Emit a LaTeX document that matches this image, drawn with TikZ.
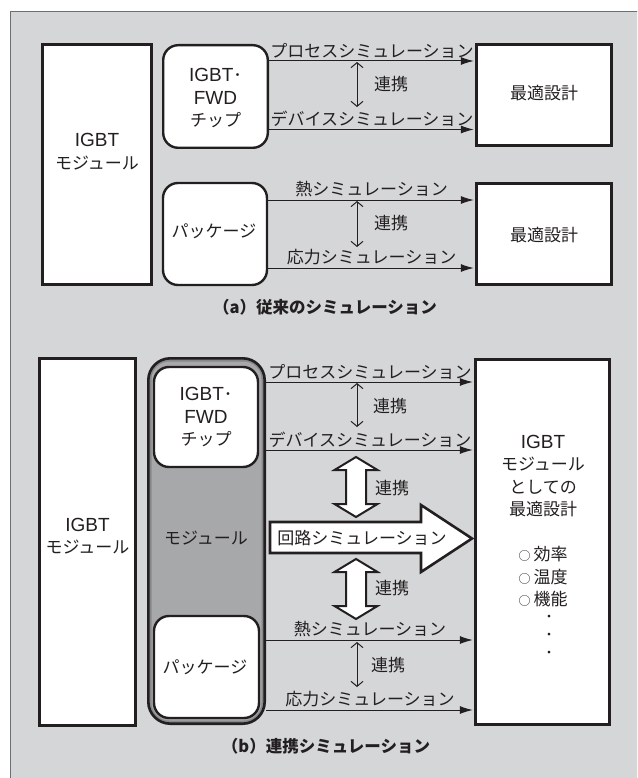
\documentclass[tikz,border=0pt]{standalone}
\usepackage{fontspec}
\setmainfont{Noto Sans CJK JP}
\newfontfamily\latf{Liberation Sans}
\usetikzlibrary{arrows.meta}
\definecolor{panel}{HTML}{D5D6D8}
\definecolor{modfill}{HTML}{A7A8AA}
\definecolor{modring}{HTML}{86878A}
\definecolor{ink}{HTML}{231F20}
\definecolor{frame}{HTML}{6D6E70}
\newcommand\LatT[1]{{\latf\fontsize{19}{22.5}\selectfont #1}}
\newcommand\SmCirc{{\fontsize{12}{12}\selectfont ○}\hspace{3pt}}
\begin{document}
\begin{tikzpicture}[x=1pt,y=-1pt,
  txt/.style={font=\fontsize{17}{22.5}\selectfont, text=ink, align=center, inner sep=0pt},
  captxt/.style={font=\fontsize{16.5}{20}\selectfont\bfseries, text=ink, inner sep=0pt},
  dotxt/.style={font=\fontsize{13}{13}\selectfont, text=ink, inner sep=0pt},
  sqbox/.style={draw=ink, line width=2.6pt, fill=white, inner sep=0pt},
  rbox/.style={draw=ink, line width=2.4pt, fill=white, rounded corners=15pt, inner sep=0pt},
  modbox/.style={draw=ink, line width=2.6pt, fill=modring, rounded corners=22pt, inner sep=0pt},
  sim/.style={draw=ink, line width=1pt, shorten >=1.2pt, -{Latex[length=13pt,width=8pt]}},
  link/.style={draw=ink, line width=1pt, {Straight Barb[length=5pt,width=12pt]}-{Straight Barb[length=5pt,width=12pt]}},
  simlab/.style={txt, above=2.5pt},
  wide/.style={draw=ink, line width=2pt, fill=white, line join=miter},
  big/.style={draw=ink, line width=2.6pt, fill=white, line join=miter}
]
\useasboundingbox (0,0) rectangle (637,778);
\clip (0,0) rectangle (637,778);
% panel
\fill[panel] (10,11) rectangle (645,790);
\draw[frame, line width=0.8pt] (10,790) -- (10,11) -- (645,11);

% ===================== (a) =====================
\node[sqbox, minimum width=109.4pt, minimum height=240.4pt] (igbtA) at (97,164.5) {};
\node[txt] (igbtAt) at (97,151.5) {\LatT{IGBT}\\モジュール};
\node[rbox, minimum width=104.6pt, minimum height=102.6pt] (chipA) at (215.5,96.5) {};
\node[txt] (chipAt) at (215.5,98.5) {\LatT{IGBT}･\\\LatT{FWD}\\チップ};
\node[rbox, minimum width=104pt, minimum height=102pt] (pkgA) at (215,234) {};
\node[txt] (pkgAt) at (214,231) {パッケージ};
\node[sqbox, minimum width=135.4pt, minimum height=101.4pt] (optA1) at (544,95) {};
\node[txt] (optA1t) at (544,93) {最適設計};
\node[sqbox, minimum width=135.4pt, minimum height=101.4pt] (optA2) at (544,234) {};
\node[txt] (optA2t) at (544,235) {最適設計};

\coordinate (pA) at (0,61);
\coordinate (dA) at (0,129.5);
\coordinate (tA) at (0,200);
\coordinate (sA) at (0,268);
\draw[sim] (chipA.east |- pA) -- node[simlab] (pAl) {プロセスシミュレーション} (optA1.west |- pA);
\draw[sim] (chipA.east |- dA) -- node[simlab] (dAl) {デバイスシミュレーション} (optA1.west |- dA);
\draw[sim] (pkgA.east |- tA) -- node[simlab] (tAl) {熱シミュレーション} (optA2.west |- tA);
\draw[sim] (pkgA.east |- sA) -- node[simlab] (sAl) {応力シミュレーション} (optA2.west |- sA);

\coordinate (lkA1t) at (357,62);
\coordinate (lkA1b) at (357,107);
\coordinate (lkA2t) at (357,201);
\coordinate (lkA2b) at (357,247);
\draw[link] (lkA1t) -- (lkA1b);
\draw[link] (lkA2t) -- (lkA2b);
\node[txt] (lkA1l) at (391,84) {連携};
\node[txt] (lkA2l) at (391,223) {連携};

\node[captxt] (capA) at (325,307) {（a）従来のシミュレーション};

% ===================== (b) =====================
\node[sqbox, minimum width=96.4pt, minimum height=367.4pt] (igbtB) at (87.5,542) {};
\node[txt] (igbtBt) at (87.5,536) {\LatT{IGBT}\\モジュール};
\node[modbox, minimum width=116.4pt, minimum height=365.4pt] (modB) at (206.5,541) {};
\fill[modfill, rounded corners=18pt] ([shift={(4.5pt,4.5pt)}]modB.south west) rectangle ([shift={(-4.5pt,-4.5pt)}]modB.north east);
\node[txt] (modBt) at (206,538) {モジュール};
\node[rbox, minimum width=104pt, minimum height=100pt] (chipB) at (206,417) {};
\node[txt] (chipBt) at (206,417) {\LatT{IGBT}･\\\LatT{FWD}\\チップ};
\node[rbox, minimum width=105pt, minimum height=102pt] (pkgB) at (206.5,667) {};
\node[txt] (pkgBt) at (205,667) {パッケージ};
\node[sqbox, minimum width=134.4pt, minimum height=365.4pt] (optB) at (542.5,542) {};
\node[txt] (optBt) at (543,476) {\LatT{IGBT}\\モジュール\\としての\\最適設計};
\node[txt] (optBl) at (543,577) {\SmCirc 効率\\\SmCirc 温度\\\SmCirc 機能};
\node[dotxt] (optBd1) at (549,618) {・};
\node[dotxt] (optBd2) at (549,636) {・};
\node[dotxt] (optBd3) at (549,654) {・};

\coordinate (pB) at (0,382);
\coordinate (dB) at (0,450);
\coordinate (tB) at (0,640);
\coordinate (sB) at (0,710);
\draw[sim] (modB.east |- pB) -- node[simlab] (pBl) {プロセスシミュレーション} (optB.west |- pB);
\draw[sim] (modB.east |- dB) -- node[simlab] (dBl) {デバイスシミュレーション} (optB.west |- dB);
\draw[sim] (modB.east |- tB) -- node[simlab] (tBl) {熱シミュレーション} (optB.west |- tB);
\draw[sim] (modB.east |- sB) -- node[simlab] (sBl) {応力シミュレーション} (optB.west |- sB);

\coordinate (lkB1t) at (357,383);
\coordinate (lkB1b) at (357,427);
\coordinate (lkB2t) at (357,642);
\coordinate (lkB2b) at (357,687);
\draw[link] (lkB1t) -- (lkB1b);
\draw[link] (lkB2t) -- (lkB2b);
\node[txt] (lkB1l) at (390,406) {連携};
\node[txt] (lkB2l) at (388,665) {連携};

% wide double arrows
\draw[wide] (356,457) -- (377.5,470) -- (366,470) -- (366,504) -- (377.5,504) -- (356,517)
  -- (334.5,504) -- (346,504) -- (346,470) -- (334.5,470) -- cycle;
\node[txt] (wl1) at (392,488) {連携};
\draw[wide] (356,559) -- (377.5,572) -- (366,572) -- (366,606) -- (377.5,606) -- (356,619)
  -- (334.5,606) -- (346,606) -- (346,572) -- (334.5,572) -- cycle;
\node[txt] (wl2) at (392,588) {連携};

% big circuit simulation arrow
\draw[big] (270,522) -- (421,522) -- (421,505) -- (472,538.5) -- (421,572) -- (421,553) -- (270,553) -- cycle;
\node[txt] (circ) at (362,538) {回路シミュレーション};

\node[captxt] (capB) at (326,746) {（b）連携シミュレーション};
\end{tikzpicture}
\end{document}
